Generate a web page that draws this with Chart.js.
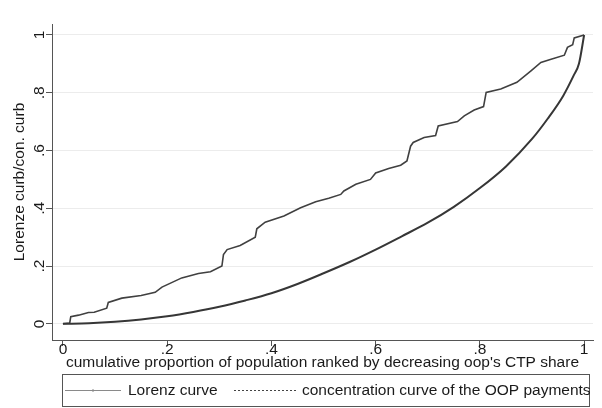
<!DOCTYPE html>
<html>
<head>
<meta charset="utf-8">
<script src="https://cdn.jsdelivr.net/npm/chart.js@4.4.1/dist/chart.umd.min.js"></script>
<style>
  html, body { margin: 0; padding: 0; background: #fff; }
  #wrap { width: 602px; height: 408px; }
</style>
</head>
<body>
<div id="wrap"><canvas id="lorenzChart" width="602" height="408"></canvas></div>
<script>
// === Axis ticks ===
const tickValues = [0, 0.2, 0.4, 0.6, 0.8, 1];
const tickLabels = ['0', '.2', '.4', '.6', '.8', '1'];

// === Lorenz curve (smooth, lower one) ===
const lorenzX = [0, 0.05, 0.1, 0.15, 0.2, 0.25, 0.3, 0.35, 0.4, 0.45, 0.5, 0.55, 0.6, 0.65, 0.7, 0.75, 0.8, 0.85, 0.9, 0.93, 0.96, 0.98, 0.99, 1];
const lorenzY = [0, 0.002, 0.007, 0.015, 0.026, 0.041, 0.059, 0.081, 0.106, 0.138, 0.175, 0.214, 0.257, 0.303, 0.350, 0.405, 0.470, 0.545, 0.640, 0.710, 0.790, 0.860, 0.900, 1];

// === Concentration curve of the OOP payments (stepped, upper one) ===
const concX = [0, 0.013, 0.015, 0.03, 0.049, 0.06, 0.084, 0.087, 0.113, 0.15, 0.177, 0.19, 0.228, 0.26, 0.283, 0.305, 0.308, 0.315, 0.34, 0.369, 0.372, 0.388, 0.424, 0.456, 0.485, 0.51, 0.533, 0.539, 0.562, 0.59, 0.6, 0.625, 0.648, 0.66, 0.667, 0.672, 0.693, 0.715, 0.72, 0.757, 0.77, 0.789, 0.807, 0.812, 0.84, 0.871, 0.898, 0.917, 0.935, 0.962, 0.968, 0.978, 0.981, 1];
const concY = [0, 0.003, 0.025, 0.03, 0.039, 0.04, 0.054, 0.074, 0.089, 0.098, 0.109, 0.127, 0.159, 0.174, 0.18, 0.2, 0.24, 0.257, 0.271, 0.3, 0.329, 0.352, 0.373, 0.402, 0.423, 0.435, 0.448, 0.46, 0.483, 0.5, 0.522, 0.538, 0.549, 0.564, 0.615, 0.628, 0.645, 0.652, 0.685, 0.7, 0.72, 0.74, 0.752, 0.801, 0.813, 0.836, 0.876, 0.905, 0.915, 0.93, 0.957, 0.966, 0.99, 1];

const seriesNames = ['Lorenz curve', 'concentration curve of the OOP payments'];
const xTitle = "cumulative proportion of population ranked by decreasing oop's CTP share";
const yTitle = 'Lorenze curb/con. curb';

const FONT = '"Liberation Sans", Arial, sans-serif';
const textColor = '#1a1a1a';
const axisColor = '#555';

const toPoints = (xs, ys) => xs.map((x, i) => ({ x: x, y: ys[i] }));
const fixedTicks = scale => { scale.ticks = tickValues.map(v => ({ value: v })); };

// rotated y labels + boxed legend, drawn the Stata way
const stataDecor = {
  id: 'stataDecor',
  afterDraw(chart) {
    const ctx = chart.ctx;
    const y = chart.scales.y;

    ctx.save();
    ctx.fillStyle = textColor;
    ctx.font = '15.5px ' + FONT;
    ctx.textAlign = 'center';
    ctx.textBaseline = 'alphabetic';
    tickValues.forEach((v, i) => {
      const py = y.getPixelForValue(v);
      ctx.save();
      ctx.translate(44, py);
      ctx.rotate(-Math.PI / 2);
      ctx.fillText(tickLabels[i], 0, 0);
      ctx.restore();
    });
    ctx.restore();

    // legend box
    ctx.save();
    ctx.strokeStyle = axisColor;
    ctx.lineWidth = 1;
    ctx.strokeRect(62.5, 374.5, 527, 32);
    const ly = 390.5;
    ctx.strokeStyle = '#8a8a8a';
    ctx.beginPath(); ctx.moveTo(65, ly); ctx.lineTo(121, ly); ctx.stroke();
    ctx.beginPath(); ctx.moveTo(93, ly - 1.5); ctx.lineTo(93, ly + 1.5); ctx.stroke();
    ctx.strokeStyle = '#444';
    ctx.setLineDash([2, 2]);
    ctx.beginPath(); ctx.moveTo(234, ly); ctx.lineTo(298, ly); ctx.stroke();
    ctx.setLineDash([]);
    ctx.fillStyle = textColor;
    ctx.font = '15.5px ' + FONT;
    ctx.textBaseline = 'middle';
    ctx.textAlign = 'left';
    ctx.fillText(seriesNames[0], 128, ly);
    ctx.fillText(seriesNames[1], 302, ly);
    ctx.restore();
  }
};

const lorenzChart = new Chart(document.getElementById('lorenzChart'), {
  type: 'scatter',
  data: {
    datasets: [
      {
        label: seriesNames[0],
        data: toPoints(lorenzX, lorenzY),
        showLine: true,
        borderColor: '#363636',
        borderWidth: 2,
        pointRadius: 0,
        cubicInterpolationMode: 'monotone'
      },
      {
        label: seriesNames[1],
        data: toPoints(concX, concY),
        showLine: true,
        borderColor: '#404040',
        borderWidth: 1.6,
        pointRadius: 0,
        tension: 0
      }
    ]
  },
  options: {
    responsive: false,
    animation: false,
    layout: { padding: { left: 0, right: 9, top: 24, bottom: 36 } },
    plugins: { legend: { display: false }, tooltip: { enabled: false } },
    scales: {
      x: {
        type: 'linear',
        min: -0.021,
        max: 1.017,
        afterBuildTicks: fixedTicks,
        afterFit: s => { s.height = 32; },
        ticks: {
          callback: v => tickLabels[tickValues.indexOf(v)],
          color: textColor,
          font: { family: FONT, size: 15.5, lineHeight: 1 },
          padding: -4,
          maxRotation: 0,
          autoSkip: false
        },
        grid: { drawOnChartArea: false, drawTicks: true, tickLength: 6, tickColor: axisColor },
        border: { color: axisColor, width: 1 },
        title: { display: true, text: xTitle, color: textColor, font: { family: FONT, size: 15.5 }, padding: { top: 0, bottom: 0 } }
      },
      y: {
        type: 'linear',
        min: -0.056,
        max: 1.038,
        afterBuildTicks: fixedTicks,
        afterFit: s => { s.width = 52; },
        ticks: { display: false },
        grid: { color: '#ececec', drawTicks: true, tickLength: 6, tickColor: axisColor },
        border: { color: axisColor, width: 1 },
        title: { display: true, text: yTitle, color: textColor, font: { family: FONT, size: 15.5 }, padding: { top: 10, bottom: 0 } }
      }
    }
  },
  plugins: [stataDecor]
});
</script>
</body>
</html>
